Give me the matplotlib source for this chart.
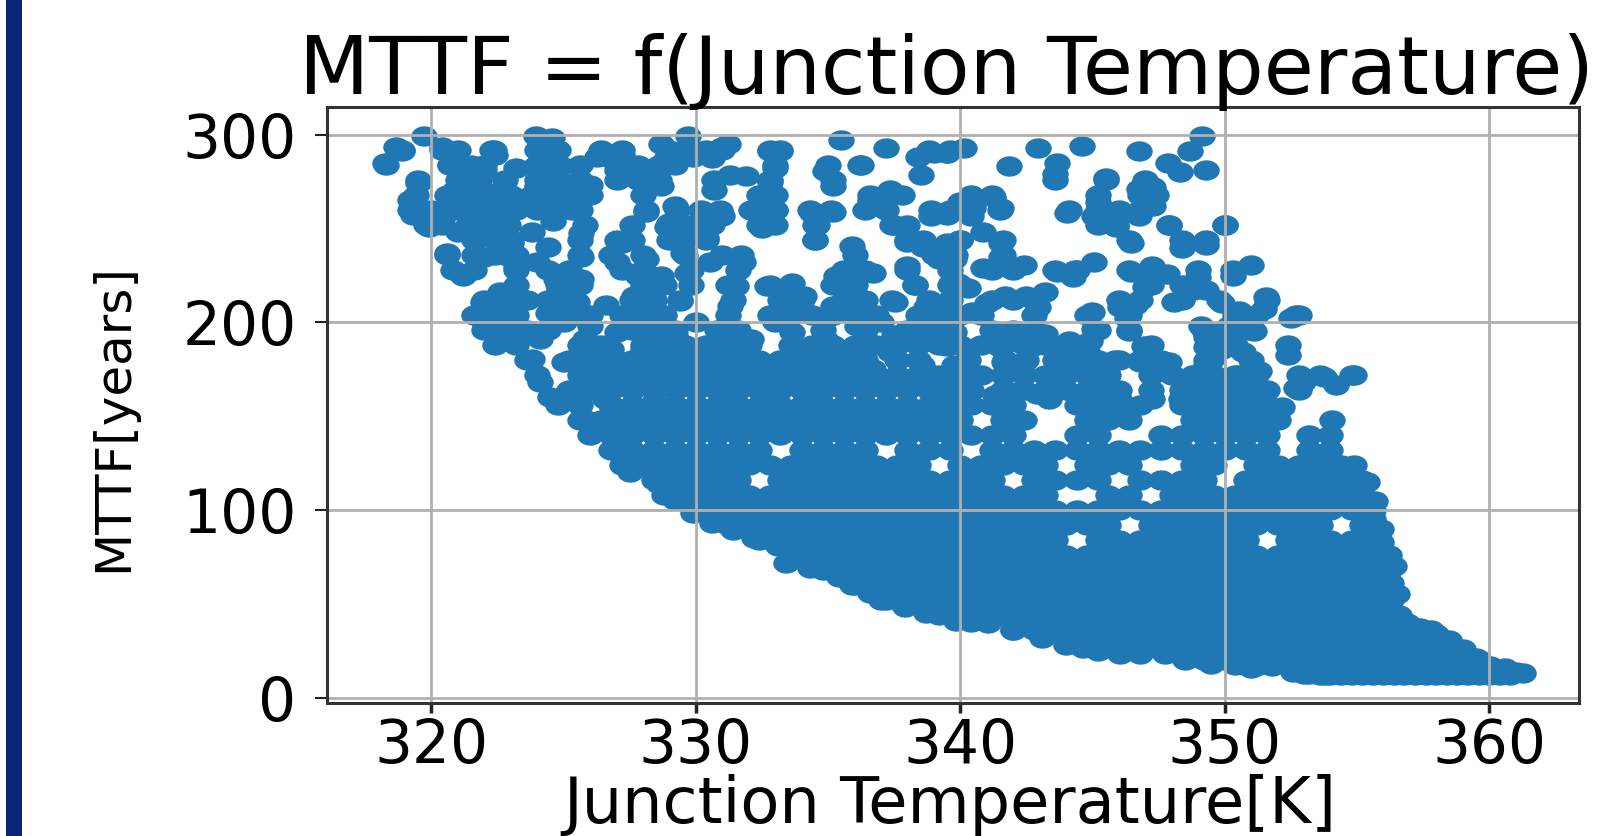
import matplotlib
matplotlib.use('Agg')
import matplotlib.pyplot as plt
import numpy as np
from matplotlib.markers import MarkerStyle
from matplotlib.patches import Rectangle
from matplotlib.transforms import Affine2D

# sparse points read one by one, left half (T, MTTF)
left_points = [
    (319.7,299),(318.65,293.6),(318.9,291),(318.25,285),(320.4,293.6),(320.9,288),(320.7,284),
    (322.35,292),(322.4,289),(321.5,283),(322,281),(323.95,299),(324.55,298),(324.25,290),
    (323.95,283),(324.9,283),(324.4,276),(325.2,272.4),(326,273),(324,272.4),(326.7,288),
    (327.2,289),(326.25,288),(327,281),(327.8,278),(328.1,272.4),(328.7,272.4),(328.7,295),
    (329.7,299),(328.9,288),(328.4,280),(329.3,288),(331,293.6),(331.2,295),(330.6,287.5),
    (329.9,288),(332.8,291),(333.2,291),(333,282),(332.8,275),(331.3,278.6),(331.9,277.7),
    (330.7,270.7),(335.5,297),(337.2,292.8),(336.25,284),(334.9,280.4),(335.2,272.4),
    (338.4,288),(339,290),(338.5,278.6),(339.5,290),(337.35,270.7),(336.6,265),(337.8,268),
    (332.6,257.4),(332.1,260),(333,260),(332.5,250.4),(334.4,258),(335.2,259),(334.5,252),
    (334.5,244),(330.5,256.5),(331,256.5),(329.2,262),(328.1,259),(329,253),(330.4,245),
    (329.5,244),(337.5,252),(338.9,256.5),(339.5,259),(338,243),(338.6,240),(339.5,242.4),
    (335.9,240.6),(338,230),(338.3,220),(339.65,221),(339.2,233.6),(319.5,274),(319.2,265),
    (319.3,257.4),(319.9,251),(320.4,255),(320.6,237),(321.2,224.7),(320.9,270.7),
    (321.65,270.7),(322.4,269),(323,267),(321.2,260),(322.3,258),(323.5,262),(324.4,262),
    (325.3,260),(321.65,244),(322.6,247.7),(323,242.4),(322,235),(323.2,230),(322.9,235.3),
    (325.65,247.7),(325.65,235),(324.7,223),(325.65,223),(327.2,242.4),(327,232),(328.1,233.6),
    (327.8,224.7),(328.7,224.7),(328.9,251),(329.5,237),(329.65,226.5),(331.8,232),(330.55,232),
    (331.5,219.4),(331.3,208.8),(332.7,219.4),(333.65,221),(333.5,208.8),(334.1,214),
    (335.2,208.8),(335.95,228),(336.7,226.5),(335.3,224.7),(335.95,212.4),(337.55,210.6),
    (338.7,208),(339.65,205),(327.65,214),(328.1,210.6),(329.4,211.5),(326.6,209),(327.5,205),
    (328.55,205),(322.6,216),(321.95,210.6),(323.2,214),(324.7,214),(325.5,210.6),(322.4,205),
    (324.4,205),(322.6,191),(323.2,196.5),(324.1,191),(325.8,191),(327,194.7),(327.95,194.7),
    (329.2,193),(323.8,180.6),(325,178.8),(324.1,168),(326,177),(327.3,178.8),(325.65,166),
    (325,159),(326.55,159),(327.5,168),(328.55,171.7),(329.65,168),(328.4,157.6),(330.9,194.7),
    (332.1,191),(331.2,184),(331.65,178.8),(333.65,194.7),(333.65,182),(334.9,191),(336.1,198),
    (337.5,193),(338.55,194.7),(335,171.7),(333.3,170),(332.7,161),(334.3,163),(336,168),
    (336.7,175),(338.55,177),(337.35,184),(339.5,187.6),(338.9,166),(339.5,163),(331.2,163),
    (325,200),(326,198),(322,200),(330.3,175),(329.5,182),(328,186),(326.8,186),(335.5,182),
    (322.8,276),(323.2,282),(322.8,252),(324.6,254),(323.8,248),(324.4,240),(321,248),(324,232),
    (326,204),(330,200),(333,200),(335,203),(337,200),
]

# sparse points read one by one, right half (T, MTTF)
right_points = [
    (340.15,293),(339.5,290),(342.95,293),(344.6,294),(341.85,283),(343.65,285),(343.6,279),
    (346.75,291),(349.15,299),(348.7,291),(347.85,285),(348.3,280),(349.3,281),(345.5,277),
    (346.75,271),(347.3,272),(340,264),(341.25,267),(341.55,261),(340.5,261),(339.5,257),
    (340.4,256.5),(344.05,258),(345.2,264),(345.05,256.5),(346,258),(345.9,251),(346.75,256.5),
    (347.3,262),(347.9,252),(350,252),(340.85,248),(341.55,242),(340,244),(346.45,242),
    (348.4,239.5),(349.3,241),(339.75,233.5),(340.85,229),(341.6,230),(342.4,230.5),(341.55,235),
    (343.65,227),(344.25,224),(344.35,228),(345.05,232),(346.45,227),(347.25,230),(347.8,225.5),
    (347,219),(339.9,221),(340.3,218.5),(349,224),(350.3,224.7),(351,230.5),(348.8,217),
    (348.1,210.6),(349.3,217),(349.9,210),(351.55,213.6),(351.5,207),(350.55,206),(352.7,204),
    (352.5,202),(341.7,214),(341,210),(340.45,205.3),(342.95,208),(343.2,216),(342.5,214),
    (345,205.6),(345.05,196.5),(346.05,208),(346.6,209),(346.3,202),(346.4,195.6),(349.1,198),
    (350.15,198),(351.1,195.6),(349.3,186.7),(346.95,187.6),(350.7,184),(352.4,182.7),
    (339.75,194.7),(341.3,194.7),(342.25,194),(343.2,194),(344.1,190),(344.9,190),(341.5,186.7),
    (342.75,187.6),(341.65,178.8),(342.4,178.8),(343.65,179.7),(343.8,171.7),(344.9,182),
    (345.85,180),(346.8,178.8),(347.9,178.8),(344.9,171.7),(345.5,175),(349.3,177),(348.8,171.7),
    (349.3,168),(348.65,163),(351,173.5),(351.3,174),(350.5,171.7),(351.3,163),(350.5,161),
    (352.7,164.7),(352.95,168),(353.75,171),(354.2,166.4),(354.9,172),(352.15,155),(339.75,177),
    (340.5,171.7),(339.4,166),(340.35,163),(341.3,161),(342.1,163),(342.9,162),(343.35,159),
    (345.4,160),(346,159),(345.05,163),(347.25,159),(348.35,159),(349.6,156.7),(350.85,159),
    (349.3,192),(349.9,186),(349.5,180),
]

# points along the outer edge of the saturated band (T, MTTF)
edge_points = [
    (324.5,160),(325.85,148),(326.9,133.5),(327.5,120),(328.6,114),(329.2,105.5),(329.9,98.5),
    (331.4,89.5),(333.1,80.5),(333.4,71.5),(335.4,64.5),(336.6,55.5),(337.9,48.5),(339.85,41),
    (341.05,39.5),(343.1,32),(344.65,26.5),(346.05,23),(347.75,23),(349.5,18),(351.8,17),
    (352.6,13.5),(353.8,12),(361.3,12.9),(360.05,16.6),(358.5,30.7),(356.9,39.7),(356.3,61),
    (355.9,83),(355.6,95),(355.4,115),(354.9,124),(354.05,148),(351,16),(353.2,12.5),
    (330.6,93),(332.2,85),(334.3,69),(335.9,60),(337,52),(338.7,45),(340.4,40),(342,36),(344,28),
    (345.2,25),(346.8,23),(348.5,20),(350.4,17.5),(351.2,17),(353,12.5),(361,13.5),(360.6,15.5),
    (359.5,21),(359,26),(358,34),(357.4,37),(356.6,43),(356.5,55),(356.4,70),(356.2,76),
    (355.9,90),(355.7,105),(354,12),(354.8,12),(355.6,12),(356.4,12),(357.2,12),(358,12),
    (358.8,12),(359.6,12),(360.4,12),
]

# saturated band, temperatures read at each MTTF level
mttf_012 = [353.6,354.4,355.2,356.0,356.8,357.6,358.4,359.2,360.0,360.8]
mttf_020 = [349.2,350.0,350.8,351.6,352.4,353.2,354.0,354.8,355.6,356.4,357.2,358.0,358.8,359.6]
mttf_028 = [344.8,345.6,346.4,347.2,348.0,348.8,349.6,350.4,351.2,352.0,352.8,353.6,354.4,355.2,
            356.0,356.8,357.6,358.4]
mttf_036 = [342.0,342.8,343.6,344.4,345.2,346.0,346.8,347.6,348.4,349.2,350.0,350.8,351.6,352.4,
            353.2,354.0,354.8,355.6,356.4,357.2,357.8]
mttf_044 = [339.2,340.0,340.8,341.6,342.4,343.2,344.0,344.8,345.6,346.4,347.2,348.0,348.8,349.6,
            350.4,351.2,352.0,352.8,353.6,354.4,355.2,356.0,356.6]
mttf_052 = [337.2,338.0,338.8,339.6,340.4,341.2,342.0,342.8,343.6,344.4,345.2,346.0,346.8,347.6,
            348.4,349.2,350.0,350.8,351.6,352.4,353.2,354.0,354.8,355.6,356.3]
mttf_060 = [336.0,336.8,337.6,338.4,339.2,340.0,340.8,341.6,342.4,343.2,344.0,344.8,345.6,346.4,
            347.2,348.0,348.8,349.6,350.4,351.2,352.0,352.8,353.6,354.4,355.2,356.0]
mttf_068 = [334.8,335.6,336.4,337.2,338.0,338.8,339.6,340.4,341.2,342.0,342.8,343.6,344.4,345.2,
            346.0,346.8,347.6,348.4,349.2,350.0,350.8,351.6,352.4,353.2,354.0,354.8,355.6,356.2]
mttf_076 = [333.6,334.4,335.2,336.0,336.8,337.6,338.4,339.2,340.0,340.8,341.6,342.4,343.2,344.0,
            344.8,345.6,346.4,347.2,348.0,348.8,349.6,350.4,351.2,352.0,352.8,353.6,354.4,355.2,356.0]
mttf_084 = [332.4,333.2,334.0,334.8,335.6,336.4,337.2,338.0,338.8,339.6,340.4,341.2,342.0,342.8,
            343.6,345.2,346.0,346.8,347.6,348.4,349.2,350.0,350.8,352.4,353.2,354.0,354.8,355.6]
mttf_092 = [331.2,332.0,332.8,333.6,334.4,335.2,336.0,336.8,337.6,338.4,339.2,340.0,340.8,341.6,
            342.4,343.2,344.0,344.8,345.6,347.2,348.0,348.8,349.6,350.4,351.2,352.0,352.8,353.6,355.2]
mttf_100 = [330.0,330.8,331.6,332.4,333.2,334.0,334.8,335.6,336.4,337.2,338.0,338.8,339.6,340.4,
            341.2,342.0,342.8,343.6,344.4,345.2,346.0,346.8,347.6,348.4,349.2,350.0,350.8,351.6,
            352.4,353.2,354.0,354.8,355.6]
mttf_108 = [328.8,329.6,330.4,331.2,332.0,332.8,333.6,334.4,335.2,336.0,336.8,337.6,338.4,339.2,
            340.0,340.8,341.6,342.4,343.2,345.6,346.4,348.0,348.8,349.6,350.4,351.2,352.0,352.8,
            353.6,354.4,355.2]
mttf_116 = [328.4,329.2,330.0,330.8,331.6,333.2,334.0,334.8,335.6,336.4,337.2,338.0,338.8,339.6,
            340.4,341.2,342.8,343.6,344.4,345.2,346.8,347.6,348.4,349.2,350.8,351.6,352.4,353.2,
            354.0,354.8,355.2]
mttf_124 = [327.2,328.0,328.8,329.6,330.4,331.2,332.0,332.8,333.6,334.4,335.2,336.0,336.8,337.6,
            338.4,340.0,340.8,341.6,342.4,343.2,344.8,345.6,346.4,348.8,349.6,351.2,352.0,352.8,
            353.6,354.4]
mttf_132 = [326.8,327.6,328.4,329.2,330.0,330.8,331.6,332.4,334.0,334.8,335.6,336.4,338.0,338.8,
            339.6,341.2,342.0,342.8,343.6,344.4,345.2,346.0,346.8,347.6,348.4,349.2,350.0,350.8,
            351.6,353.2,354.0]
mttf_140 = [326.0,326.8,327.6,328.4,329.2,330.0,330.8,331.6,332.4,333.2,334.0,334.8,335.6,336.4,
            337.2,338.0,338.8,339.6,340.4,341.2,342.0,344.4,345.2,347.6,348.4,349.2,350.0,350.8,
            351.6,353.2,354.0]
mttf_148 = [325.6,326.4,327.2,328.0,328.8,329.6,330.4,331.2,332.0,332.8,333.6,334.4,335.2,336.0,
            336.8,337.6,338.4,339.2,340.0,341.6,342.4,344.8,345.6,346.4,348.8,349.6,350.4,351.2,352.0]
mttf_156 = [324.8,325.6,326.8,327.6,328.4,329.2,330.0,330.8,331.6,332.4,333.2,334.0,334.8,335.6,
            336.4,337.2,338.0,338.8,339.6,340.4,341.2,342.0,344.4,345.2,346.0,346.8,348.4,349.2,
            350.0,350.8,351.6]
mttf_164 = [325.2,326.0,326.8,327.6,328.4,329.2,330.0,330.8,331.6,332.4,333.2,334.0,334.8,335.6,
            336.4,337.2,338.0,338.8,339.6,340.4,341.6,342.4,343.2,344.0,344.8,345.2,346.0,347.2,
            348.4,349.2,350.0,350.8,351.6,352.8]
mttf_172 = [324.0,325.6,326.4,327.2,328.0,328.8,329.6,330.4,331.2,332.0,332.8,333.6,334.4,335.2,
            336.0,336.8,337.6,338.4,339.2,340.0,340.8,341.6,342.4,343.2,344.0,344.8,345.6,347.2,
            348.0,348.8,349.6,350.4,351.2,352.8,353.6,354.8]
mttf_180 = [323.6,325.2,326.0,326.8,327.6,328.4,329.2,330.0,330.8,331.6,332.4,333.2,334.0,334.8,
            335.6,336.4,337.6,338.4,340.3,341.7,342.5,343.6,344.4,345.2,346.0,346.8,347.6,349.3,351.0]
mttf_188 = [322.4,323.2,325.6,326.4,328.0,328.8,329.6,330.4,331.2,332.0,333.6,334.4,335.2,336.0,
            336.8,337.6,338.4,339.2,340.0,340.8,341.6,342.4,343.2,344.0,344.8,347.2,349.6,350.4,352.4]
mttf_196 = [322.0,322.8,323.6,324.4,327.6,328.4,329.2,330.8,331.6,334.8,336.4,338.0,338.8,339.6,
            341.2,342.0,342.8,345.2,346.4,349.2,350.0,350.8]
mttf_204 = [321.6,322.4,323.2,324.8,325.6,327.2,328.0,328.8,331.2,332.8,333.6,334.4,335.2,336.0,
            336.8,338.4,339.2,340.0,340.8,342.8,344.8,346.4,350.4,351.2,352.8]
mttf_212 = [322.0,322.8,323.6,324.4,325.2,327.6,328.4,329.4,331.4,333.2,334.0,335.6,336.4,337.4,
            338.8,339.6,341.2,342.0,342.8,346.0,346.8,348.4,349.8,351.6]
mttf_220 = [323.2,324.8,325.6,328.0,328.8,329.8,331.2,332.8,333.6,335.2,336.0,338.3,339.6,340.0,
            347.2,348.4,349.0]
mttf_228 = [320.8,321.6,323.2,324.4,325.2,327.2,328.0,329.8,331.6,335.6,336.4,338.0,339.6,341.2,
            342.0,343.6,344.4,346.4,347.2,349.0,350.3]
mttf_236 = [320.6,321.6,322.4,323.2,325.6,326.8,328.0,329.6,331.0,331.7,336.0,339.0,339.8,341.6]
mttf_244 = [321.6,322.4,323.0,325.6,327.0,327.6,329.0,329.6,330.4,334.5,338.0,338.6,340.0,341.6,
            346.4,348.4,349.3]
mttf_252 = [319.8,320.4,321.4,322.2,322.9,325.8,327.6,329.0,329.8,330.6,332.4,333.0,334.6,337.4,
            338.0,345.2,345.9,347.9,350.0]
mttf_260 = [319.2,320.0,320.8,321.6,322.4,323.2,324.0,324.8,325.6,328.1,329.3,330.2,330.9,332.2,
            333.0,334.3,335.1,336.4,337.2,338.9,339.6,340.4,341.5,344.1,345.2,346.0,346.8]
mttf_268 = [319.4,320.6,321.4,322.2,323.0,323.8,324.6,325.4,326.0,328.0,332.4,333.0,336.6,337.4,
            340.4,341.2,345.2,346.8,347.4]
mttf_276 = [319.5,321.0,321.8,324.0,324.8,325.6,327.0,327.8,328.6,330.7,332.8,335.2,343.6,345.5,347.0]
mttf_284 = [318.3,320.7,321.5,322.0,324.0,324.8,325.6,327.0,327.8,328.6,329.2,333.0,335.0,336.2]
mttf_292 = [318.9,320.4,321.0,322.3,324.0,324.8,326.4,327.2,329.0,329.6,330.4,331.0,332.8,333.2,
            338.8,339.6]

band_levels = [12, 20, 28, 36, 44, 52, 60, 68, 76, 84, 92, 100, 108, 116, 124, 132, 140, 148, 156,
               164, 172, 180, 188, 196, 204, 212, 220, 228, 236, 244, 252, 260, 268, 276, 284, 292]
band_temps = [mttf_012, mttf_020, mttf_028, mttf_036, mttf_044, mttf_052, mttf_060, mttf_068,
              mttf_076, mttf_084, mttf_092, mttf_100, mttf_108, mttf_116, mttf_124, mttf_132,
              mttf_140, mttf_148, mttf_156, mttf_164, mttf_172, mttf_180, mttf_188, mttf_196,
              mttf_204, mttf_212, mttf_220, mttf_228, mttf_236, mttf_244, mttf_252, mttf_260,
              mttf_268, mttf_276, mttf_284, mttf_292]

x_ticks = [320, 330, 340, 350, 360]
y_ticks = [0, 100, 200, 300]

points = np.array(left_points + right_points + edge_points)
temps = list(points[:, 0])
mttf = list(points[:, 1])
for level, row in zip(band_levels, band_temps):
    temps += row
    mttf += [level] * len(row)

fig = plt.figure(figsize=(16.04, 8.36), dpi=100)

# navy bar on the left edge of the page
fig.add_artist(Rectangle((6 / 1604, 0), 16 / 1604, 1, transform=fig.transFigure, color='#0a2479', lw=0))

ax = fig.add_axes([327 / 1604, 1 - 703 / 836, (1579 - 327) / 1604, (703 - 107) / 836])

# the picture is stretched sideways, so the dots are too
dot = MarkerStyle('o', transform=Affine2D().scale(1.3, 1))
ax.scatter(temps, mttf, s=215, marker=dot, color='#1f77b4', linewidths=0)

ax.set_xlim(316.05, 363.4)
ax.set_ylim(-2.9, 314.7)
ax.set_xticks(x_ticks)
ax.set_yticks(y_ticks)
ax.grid(True, color='#b0b0b0', linewidth=2)
ax.tick_params(axis='x', labelsize=43, width=2.5, length=7, pad=3, color='#222222')
ax.tick_params(axis='y', labelsize=43, width=1.5, length=9, pad=13, color='#222222')
for spine in ax.spines.values():
    spine.set_linewidth(2.2)
    spine.set_color('#333333')

fig.text(947 / 1604, 1 - 94 / 836, 'MTTF = f(Junction Temperature)', fontsize=58.5, ha='center', va='baseline')
fig.text(950 / 1604, 1 - 823 / 836, 'Junction Temperature[K]', fontsize=46, ha='center', va='baseline')
fig.text(113 / 1604, 1 - 418 / 836, 'MTTF[years]', fontsize=36, rotation=90, ha='center', va='center')

fig.savefig('out.png', dpi=100)
